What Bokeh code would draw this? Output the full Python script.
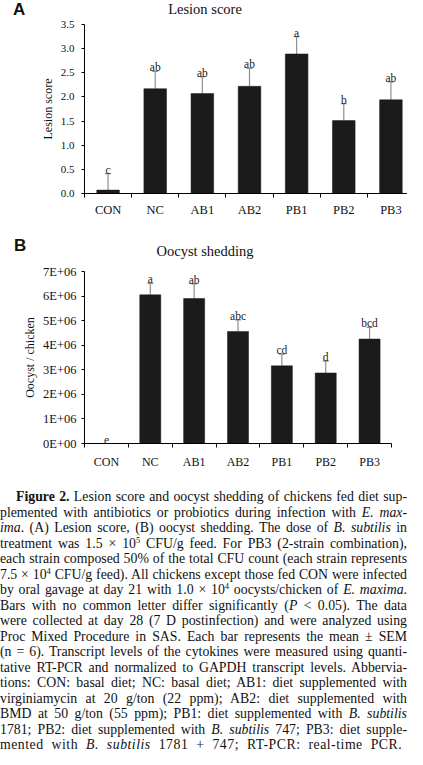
from bokeh.plotting import figure
from bokeh.models import (ColumnDataSource, FixedTicker, Range1d, Whisker, TeeHead,
                          Div, NumeralTickFormatter)
from bokeh.layouts import column
from bokeh.core.properties import value
from bokeh.embed import file_html
from bokeh.resources import INLINE

# ---------------- data ----------------
categories = ["CON", "NC", "AB1", "AB2", "PB1", "PB2", "PB3"]

lesion_mean = [0.07, 2.17, 2.07, 2.22, 2.89, 1.51, 1.94]
lesion_sem = [0.34, 0.36, 0.35, 0.37, 0.36, 0.35, 0.37]
lesion_letters = ["c", "ab", "ab", "ab", "a", "b", "ab"]
lesion_ticks = [0.0, 0.5, 1.0, 1.5, 2.0, 2.5, 3.0, 3.5]

oocyst_mean = [0.0, 6.05e6, 5.90e6, 4.56e6, 3.16e6, 2.87e6, 4.25e6]
oocyst_sem = [0.0, 0.47e6, 0.60e6, 0.47e6, 0.48e6, 0.48e6, 0.48e6]
oocyst_letters = ["e", "a", "ab", "abc", "cd", "d", "bcd"]
oocyst_ticks = [0, 1e6, 2e6, 3e6, 4e6, 5e6, 6e6, 7e6]
oocyst_tick_labels = ["0E+00", "1E+06", "2E+06", "3E+06", "4E+06", "5E+06", "6E+06", "7E+06"]

SERIF = "Liberation Serif"
BAR = "#1b1b1b"
ERR = "#8f8f8f"


def panel(means, sems, letters, ymax, yticks, ylabel,
          frame_w, frame_h, left, top, bottom, right,
          tick_font, ytick_font, xstandoff, ystandoff):
    n = len(categories)
    xs = [i + 0.5 for i in range(n)]
    upper = [m + s for m, s in zip(means, sems)]
    src = ColumnDataSource(dict(x=xs, top=means, upper=upper, letter=letters))
    wsrc = ColumnDataSource(dict(
        x=[x for x, s in zip(xs, sems) if s > 0],
        lower=[m for m, s in zip(means, sems) if s > 0],
        upper=[u for u, s in zip(upper, sems) if s > 0]))

    p = figure(frame_width=frame_w, frame_height=frame_h,
               x_range=Range1d(0, n), y_range=Range1d(0, ymax),
               output_backend="svg", toolbar_location=None,
               min_border_left=left, min_border_top=top,
               min_border_bottom=bottom, min_border_right=right)
    p.outline_line_color = None
    p.xgrid.visible = False
    p.ygrid.visible = False
    p.background_fill_color = "white"
    p.border_fill_color = "white"

    p.vbar(x="x", top="top", width=0.48, source=src,
           fill_color=BAR, line_color=BAR, line_width=0.5)
    p.add_layout(Whisker(base="x", lower="lower", upper="upper", source=wsrc,
                         line_color=ERR, line_width=1.2,
                         upper_head=TeeHead(size=6, line_color=ERR, line_width=1.2),
                         lower_head=None))
    p.text(x="x", y="upper", text="letter", source=src,
           text_align="center", text_baseline="alphabetic", y_offset=-4,
           text_font=value(SERIF), text_font_size="11.5px", text_color="#222222")

    # x axis: labels at category centres, tick marks at category boundaries
    xa = p.xaxis[0]
    xa.ticker = FixedTicker(ticks=xs, minor_ticks=list(range(n + 1)))
    xa.major_label_overrides = {x: c for x, c in zip(xs, categories)}
    xa.major_tick_line_color = None
    xa.minor_tick_out = 4
    xa.minor_tick_in = 0
    xa.minor_tick_line_color = "black"
    xa.axis_line_color = "black"
    xa.major_label_text_font = SERIF
    xa.major_label_text_font_size = tick_font
    xa.major_label_text_color = "#111111"
    xa.major_label_standoff = xstandoff

    ya = p.yaxis[0]
    ya.ticker = FixedTicker(ticks=yticks, minor_ticks=[])
    ya.major_tick_out = 3
    ya.major_tick_in = 0
    ya.minor_tick_line_color = None
    ya.axis_line_color = "black"
    ya.major_label_text_font = SERIF
    ya.major_label_text_font_size = ytick_font
    ya.major_label_text_color = "#111111"
    ya.major_label_standoff = ystandoff
    ya.axis_label = ylabel
    ya.axis_label_text_font = SERIF
    ya.axis_label_text_font_style = "normal"
    ya.axis_label_text_font_size = "12px"
    ya.axis_label_text_color = "#111111"
    ya.axis_label_standoff = 3
    return p


def header(letter, title, height, letter_left, letter_cy, title_cx, title_cy):
    html = (
        f'<div style="position:relative;width:407px;height:{height}px;">'
        f'<span style="position:absolute;left:{letter_left}px;top:{letter_cy - 10}px;height:20px;'
        f'line-height:20px;font-family:\'Liberation Sans\';font-weight:bold;font-size:17px;color:#111;">{letter}</span>'
        f'<span style="position:absolute;left:{title_cx - 100}px;width:200px;text-align:center;'
        f'top:{title_cy - 9}px;height:18px;line-height:18px;font-family:\'Liberation Serif\';'
        f'font-size:14.5px;color:#111;">{title}</span>'
        '</div>'
    )
    return Div(text=html, width=407, height=height, margin=(0, 0, 0, 0))


head_a = header("A", "Lesion score", 16, 13, 10, 205, 9)
pa = panel(lesion_mean, lesion_sem, lesion_letters, 3.5, lesion_ticks, "Lesion score",
           330, 169, 62, 8, 24, 15, "12.5px", "11px", 3, 7)
pa.yaxis[0].formatter = NumeralTickFormatter(format="0.0")

head_b = header("B", "Oocyst shedding", 42, 14, 27, 205, 32)
pb = panel(oocyst_mean, oocyst_sem, oocyst_letters, 7e6, oocyst_ticks, "Oocyst / chicken",
           307, 172, 84, 10, 46, 16, "12px", "12.5px", 5, 5)
pb.yaxis[0].major_label_overrides = {t: l for t, l in zip(oocyst_ticks, oocyst_tick_labels)}

# ---------------- caption ----------------
caption_lines = [
    "<b>Figure 2.</b> Lesion score and oocyst shedding of chickens fed diet sup-",
    "plemented with antibiotics or probiotics during infection with <i>E. max-</i>",
    "<i>ima</i>. (A) Lesion score, (B) oocyst shedding. The dose of <i>B. subtilis</i> in",
    "treatment was 1.5 &times; 10<sup>5</sup> CFU/g feed. For PB3 (2-strain combination),",
    "each strain composed 50% of the total CFU count (each strain represents",
    "7.5 &times; 10<sup>4</sup> CFU/g feed). All chickens except those fed CON were infected",
    "by oral gavage at day 21 with 1.0 &times; 10<sup>4</sup> oocysts/chicken of <i>E. maxima</i>.",
    "Bars with no common letter differ significantly (<i>P</i> &lt; 0.05). The data",
    "were collected at day 28 (7 D postinfection) and were analyzed using",
    "Proc Mixed Procedure in SAS. Each bar represents the mean &plusmn; SEM",
    "(n = 6). Transcript levels of the cytokines were measured using quanti-",
    "tative RT-PCR and normalized to GAPDH transcript levels. Abbervia-",
    "tions: CON: basal diet; NC: basal diet; AB1: diet supplemented with",
    "virginiamycin at 20 g/ton (22 ppm); AB2: diet supplemented with",
    "BMD at 50 g/ton (55 ppm); PB1: diet supplemented with <i>B. subtilis</i>",
    "1781; PB2: diet supplemented with <i>B. subtilis</i> 747; PB3: diet supple-",
    "mented with <i>B. subtilis</i> 1781 + 747; RT-PCR: real-time PCR.",
]

html_parts = []
for i, line in enumerate(caption_lines):
    last = i == len(caption_lines) - 1
    style = ("white-space:nowrap;height:15.5px;line-height:15.5px;"
             + ("text-align:left;word-spacing:4px;letter-spacing:0.5px;" if last
                else "text-align:justify;text-align-last:justify;")
             + ("padding-left:16px;" if i == 0 else ""))
    html_parts.append(f'<div style="{style}">{line}</div>')
caption_html = ('<div style="font-family:\'Liberation Serif\';font-size:13.8px;color:#111;width:407px;">'
                + "".join(html_parts).replace("<sup>", '<sup style="font-size:8.5px;line-height:0;vertical-align:5px;">')
                + "</div>")
cap = Div(text=caption_html, width=407, height=265, margin=(0, 0, 0, 0))

layout = column(head_a, pa, head_b, pb, cap, spacing=0)

open("out.html", "w").write(file_html(layout, INLINE))
